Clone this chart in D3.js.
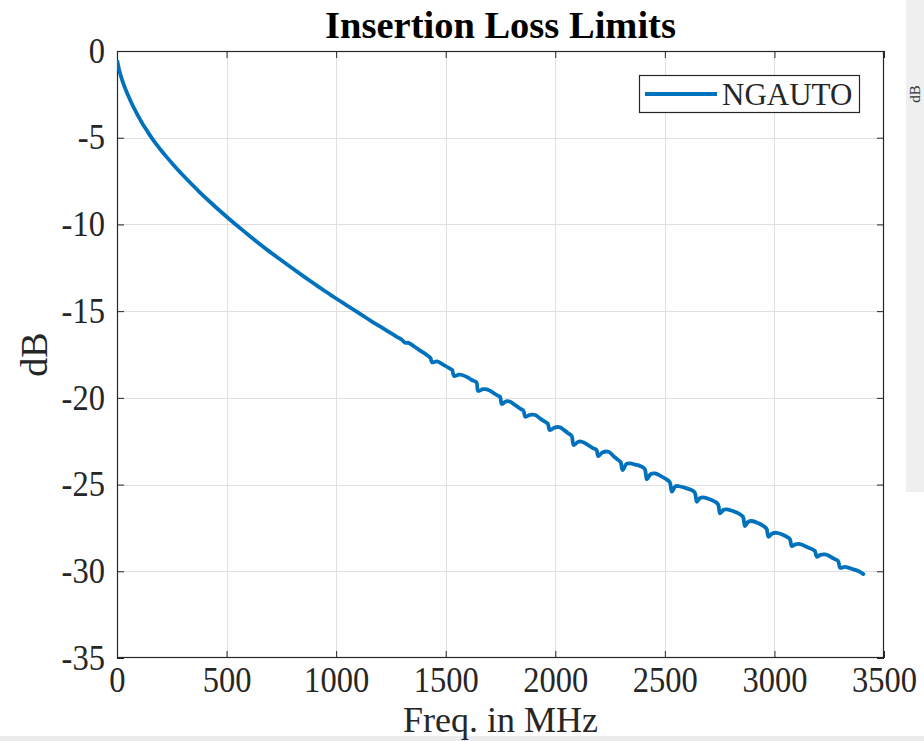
<!DOCTYPE html>
<html><head><meta charset="utf-8">
<script src="https://cdn.jsdelivr.net/npm/d3@7"></script>
<style>body{margin:0;background:#fff}svg{display:block}</style>
</head><body>
<svg id="c" width="924" height="741"></svg>
<script>
const chartTitle = "Insertion Loss Limits";
const xLabel = "Freq. in MHz";
const yLabel = "dB";
const seriesName = "NGAUTO";
const xTickValues = [0, 500, 1000, 1500, 2000, 2500, 3000, 3500];
const yTickValues = [0, -5, -10, -15, -20, -25, -30, -35];

const freqMHz = [
  2, 5, 10, 15, 21, 28, 35, 43, 52, 62,
  74, 87, 100, 115, 130, 143, 160, 180, 200, 227,
  260, 300, 340, 379, 420, 460, 508, 550, 600, 638,
  690, 750, 800, 850, 900, 950, 972, 1000, 1033, 1060,
  1090, 1124, 1160, 1200, 1240, 1277, 1300, 1315, 1330, 1352,
  1380, 1413, 1430, 1438, 1460, 1490, 1520, 1530, 1538, 1560,
  1575, 1600, 1619, 1640, 1648, 1670, 1687, 1710, 1733, 1748,
  1756, 1775, 1794, 1815, 1839, 1855, 1863, 1885, 1908, 1930,
  1953, 1966, 1975, 2000, 2022, 2040, 2060, 2075, 2084, 2105,
  2121, 2150, 2174, 2188, 2196, 2215, 2243, 2265, 2288, 2298,
  2307, 2325, 2341, 2365, 2387, 2408, 2418, 2435, 2455, 2480,
  2501, 2522, 2532, 2548, 2562, 2590, 2615, 2636, 2646, 2660,
  2676, 2705, 2729, 2743, 2752, 2768, 2783, 2810, 2836, 2856,
  2866, 2880, 2897, 2925, 2950, 2964, 2973, 2990, 3011, 3035,
  3057, 3071, 3079, 3095, 3117, 3140, 3163, 3184, 3193, 3210,
  3231, 3250, 3269, 3290, 3300, 3320, 3340, 3361, 3385, 3406
];
const lossDB = [
  -0.6, -0.82, -1.1, -1.33, -1.58, -1.84, -2.08, -2.33, -2.6, -2.88,
  -3.2, -3.52, -3.83, -4.16, -4.46, -4.72, -5.04, -5.39, -5.71, -6.12,
  -6.6, -7.15, -7.67, -8.16, -8.65, -9.11, -9.64, -10.09, -10.61, -11.0,
  -11.51, -12.07, -12.53, -12.98, -13.42, -13.85, -14.04, -14.27, -14.54, -14.76,
  -15.0, -15.28, -15.57, -15.88, -16.2, -16.48, -16.65, -16.82, -16.83, -17.0,
  -17.25, -17.52, -17.7, -17.95, -17.9, -18.1, -18.32, -18.4, -18.74, -18.66,
  -18.68, -18.82, -18.97, -19.1, -19.6, -19.5, -19.51, -19.65, -19.84, -19.95,
  -20.36, -20.2, -20.22, -20.4, -20.61, -20.75, -21.09, -20.98, -20.99, -21.18,
  -21.38, -21.5, -21.86, -21.7, -21.7, -21.86, -22.05, -22.2, -22.72, -22.53,
  -22.53, -22.72, -22.91, -23.0, -23.36, -23.15, -23.11, -23.35, -23.59, -23.7,
  -24.16, -23.8, -23.78, -23.85, -23.93, -24.1, -24.7, -24.4, -24.36, -24.5,
  -24.65, -24.85, -25.41, -25.1, -25.09, -25.18, -25.28, -25.45, -25.99, -25.78,
  -25.74, -25.85, -25.99, -26.15, -26.66, -26.45, -26.43, -26.52, -26.66, -26.85,
  -27.39, -27.15, -27.1, -27.22, -27.39, -27.55, -28.01, -27.82, -27.78, -27.88,
  -28.01, -28.15, -28.55, -28.45, -28.43, -28.55, -28.68, -28.82, -29.16, -29.05,
  -29.03, -29.12, -29.26, -29.4, -29.8, -29.75, -29.8, -29.89, -30.0, -30.16
];

const svg = d3.select("#c");
const L = 117, R = 884, T = 51, B = 658;
const x = d3.scaleLinear().domain([0, 3500]).range([L, R]);
const y = d3.scaleLinear().domain([-35, 0]).range([B, T]);
const axisColor = "#262626";
const fontFam = "'Liberation Serif','DejaVu Serif',serif";

// surroundings of the screenshot
svg.append("rect").attr("x", 906).attr("y", 0).attr("width", 18).attr("height", 492).attr("fill", "#efefef");
svg.append("text").attr("transform", "translate(920,94) rotate(-90)")
  .attr("text-anchor", "middle").attr("font-family", fontFam).attr("font-size", 15).attr("fill", "#333").text("dB");
svg.append("rect").attr("x", 0).attr("y", 736).attr("width", 924).attr("height", 5).attr("fill", "#ececec");

// plot background
svg.append("rect").attr("x", L).attr("y", T).attr("width", R - L).attr("height", B - T).attr("fill", "#fff");

// grid
const grid = svg.append("g").attr("stroke", "#e0e0e0").attr("stroke-width", 1);
grid.selectAll(".gx").data(xTickValues.slice(1, -1)).join("line")
  .attr("x1", d => Math.round(x(d)) + 0.5).attr("x2", d => Math.round(x(d)) + 0.5).attr("y1", T).attr("y2", B);
grid.selectAll(".gy").data(yTickValues.slice(1, -1)).join("line")
  .attr("y1", d => Math.round(y(d)) + 0.5).attr("y2", d => Math.round(y(d)) + 0.5).attr("x1", L).attr("x2", R);

// axes
const fmt = d => String(d);
function styleAxis(g) {
  g.select(".domain").remove();
  g.selectAll(".tick line").attr("stroke", axisColor);
  g.selectAll(".tick text").attr("fill", axisColor).attr("font-family", fontFam)
    .attr("font-size", 35).attr("transform", "scale(0.93,1)");
}
svg.append("g").attr("transform", `translate(0,${B})`)
  .call(d3.axisBottom(x).tickValues(xTickValues).tickSizeInner(-7).tickSizeOuter(0).tickPadding(9).tickFormat(fmt))
  .call(styleAxis);
svg.append("g").attr("transform", `translate(${L},0)`)
  .call(d3.axisLeft(y).tickValues(yTickValues).tickSizeInner(-7).tickSizeOuter(0).tickPadding(13).tickFormat(fmt))
  .call(styleAxis);
svg.append("g").attr("transform", `translate(0,${T})`)
  .call(d3.axisTop(x).tickValues(xTickValues).tickSizeInner(-7).tickSizeOuter(0).tickFormat(""))
  .call(styleAxis);
svg.append("g").attr("transform", `translate(${R},0)`)
  .call(d3.axisRight(y).tickValues(yTickValues).tickSizeInner(-7).tickSizeOuter(0).tickFormat(""))
  .call(styleAxis);

// box
svg.append("rect").attr("x", L + 0.5).attr("y", T + 0.5).attr("width", R - L - 1).attr("height", B - T - 1)
  .attr("fill", "none").attr("stroke", axisColor).attr("stroke-width", 1.2);

// series
svg.append("clipPath").attr("id", "clip").append("rect").attr("x", L).attr("y", T).attr("width", R - L).attr("height", B - T);
const pts = freqMHz.map((f, i) => [f, lossDB[i]]);
svg.append("path").datum(pts).attr("clip-path", "url(#clip)")
  .attr("fill", "none").attr("stroke", "#0072BD").attr("stroke-width", 3.8)
  .attr("stroke-linejoin", "round").attr("stroke-linecap", "round")
  .attr("d", d3.line().x(d => x(d[0])).y(d => y(d[1])).curve(d3.curveCatmullRom.alpha(0.5)));

// legend
const lg = svg.append("g");
lg.append("rect").attr("x", 639.5).attr("y", 75.5).attr("width", 220).attr("height", 37)
  .attr("fill", "#fff").attr("stroke", axisColor).attr("stroke-width", 1.2);
lg.append("line").attr("x1", 645).attr("x2", 717).attr("y1", 94).attr("y2", 94)
  .attr("stroke", "#0072BD").attr("stroke-width", 3.8);
lg.append("text").attr("x", 722).attr("y", 105).attr("font-family", fontFam).attr("font-size", 31)
  .attr("fill", axisColor).text(seriesName);

// title and labels
svg.append("text").attr("x", (L + R) / 2).attr("y", 38).attr("text-anchor", "middle")
  .attr("font-family", fontFam).attr("font-weight", "bold").attr("font-size", 38.5).attr("fill", "#000").text(chartTitle);
svg.append("text").attr("x", (L + R) / 2).attr("y", 732).attr("text-anchor", "middle")
  .attr("font-family", fontFam).attr("font-size", 36).attr("fill", axisColor).text(xLabel);
svg.append("text").attr("transform", `translate(47,${(T + B) / 2}) rotate(-90)`).attr("text-anchor", "middle")
  .attr("font-family", fontFam).attr("font-size", 38).attr("fill", axisColor).text(yLabel);
</script>
</body></html>
